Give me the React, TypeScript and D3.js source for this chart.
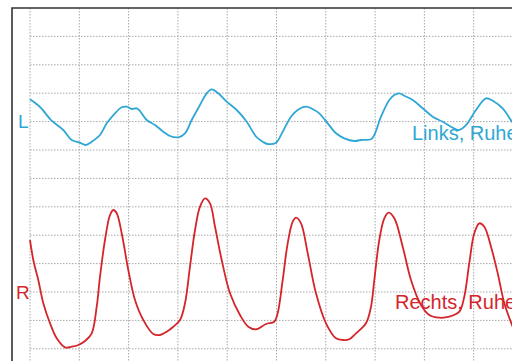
import React from "react";
import * as d3 from "d3";

// time in grid divisions, amplitude in grid divisions
const linksT = [0, 0.203, 0.44, 0.675, 0.846, 1.014, 1.13, 1.252, 1.42, 1.556, 1.724, 1.86, 1.961, 2.063, 2.164, 2.231, 2.367, 2.535, 2.704, 2.84, 3.008, 3.144, 3.28, 3.448, 3.584, 3.686, 3.819, 3.99, 4.193, 4.396, 4.584, 4.72, 4.822, 4.99, 5.126, 5.294, 5.43, 5.598, 5.767, 5.868, 6.039, 6.207, 6.375, 6.578, 6.714, 6.917, 6.984, 7.12, 7.288, 7.39, 7.491, 7.593, 7.763, 7.966, 8.168, 8.371, 8.574, 8.696, 8.844, 9.047, 9.25, 9.418, 9.588, 9.777, 9.9];
const linksV = [8.785, 8.514, 8.032, 7.704, 7.352, 7.257, 7.176, 7.292, 7.528, 7.94, 8.292, 8.504, 8.525, 8.444, 8.468, 8.373, 8.056, 7.88, 7.644, 7.493, 7.447, 7.588, 8.056, 8.585, 8.996, 9.137, 8.996, 8.701, 8.408, 7.996, 7.475, 7.292, 7.211, 7.257, 7.644, 8.173, 8.408, 8.525, 8.408, 8.292, 7.94, 7.588, 7.412, 7.317, 7.352, 7.377, 7.528, 8.173, 8.761, 8.937, 8.996, 8.912, 8.761, 8.468, 8.173, 7.996, 7.785, 7.704, 7.88, 8.408, 8.82, 8.701, 8.468, 7.996, 7.7];

const rechtsT = [0, 0.067, 0.168, 0.27, 0.406, 0.542, 0.71, 0.846, 0.98, 1.116, 1.252, 1.353, 1.42, 1.521, 1.623, 1.69, 1.759, 1.86, 1.994, 2.13, 2.298, 2.501, 2.637, 2.773, 2.907, 3.043, 3.144, 3.245, 3.347, 3.448, 3.55, 3.651, 3.753, 3.888, 4.057, 4.26, 4.428, 4.584, 4.787, 4.955, 5.024, 5.126, 5.227, 5.329, 5.396, 5.497, 5.633, 5.801, 6.004, 6.207, 6.343, 6.477, 6.613, 6.815, 6.917, 6.984, 7.085, 7.187, 7.276, 7.39, 7.56, 7.728, 7.931, 8.099, 8.302, 8.505, 8.708, 8.809, 8.91, 9.012, 9.114, 9.215, 9.351, 9.487, 9.621, 9.777, 9.9];
const rechtsV = [3.831, 3.127, 2.423, 1.602, 0.898, 0.37, 0.053, 0.074, 0.134, 0.275, 0.546, 1.482, 2.539, 3.831, 4.711, 4.887, 4.771, 4.067, 2.775, 1.718, 1.014, 0.521, 0.486, 0.602, 0.778, 1.014, 1.602, 2.891, 4.183, 5.004, 5.299, 5.123, 4.299, 3.127, 1.954, 1.19, 0.778, 0.687, 0.873, 0.954, 1.25, 2.423, 3.715, 4.475, 4.616, 4.419, 3.363, 1.954, 0.898, 0.37, 0.31, 0.335, 0.546, 0.898, 1.482, 2.423, 3.831, 4.595, 4.792, 4.595, 3.595, 2.423, 1.542, 1.19, 1.095, 1.13, 1.306, 1.835, 3.011, 4.067, 4.419, 4.299, 3.595, 2.658, 1.602, 0.838, 0.3];

const xTicks = d3.range(0, 11);
const yTicks = d3.range(0, 12);

const W = 512;
const H = 361;
const BLUE = "#2fa7d4";
const RED = "#d4252b";

export default function App() {
  const x = d3.scaleLinear().domain([0, 10]).range([30, 523]);
  const y = d3.scaleLinear().domain([0, 12]).range([348.8, 8]);

  const line = d3
    .line<[number, number]>()
    .x((d) => x(d[0]))
    .y((d) => y(d[1]))
    .curve(d3.curveCatmullRom.alpha(0.5));

  const links = linksT.map((t, i) => [t, linksV[i]] as [number, number]);
  const rechts = rechtsT.map((t, i) => [t, rechtsV[i]] as [number, number]);

  return (
    <svg
      width={W}
      height={H}
      style={{ position: "absolute", left: 0, top: 0, background: "#fff" }}
      fontFamily="Liberation Sans, Arial, sans-serif"
    >
      <rect width={W} height={H} fill="#fff" />
      {/* grid */}
      <g stroke="#a8a8a8" strokeWidth={1} strokeDasharray="1.5,1.5">
        {xTicks.map((t) => (
          <line key={"v" + t} x1={x(t)} x2={x(t)} y1={y(12)} y2={H} />
        ))}
        {yTicks.map((v) => (
          <line key={"h" + v} x1={x(0)} x2={W} y1={y(v)} y2={y(v)} />
        ))}
      </g>
      {/* frame */}
      <path d={`M12,${H} V8 H${W}`} fill="none" stroke="#333" strokeWidth={1.6} />

      <path d={line(links) ?? ""} fill="none" stroke={BLUE} strokeWidth={1.8} />
      <path d={line(rechts) ?? ""} fill="none" stroke={RED} strokeWidth={1.8} />

      <text x={18} y={128} fontSize={19} fill={BLUE}>L</text>
      <text x={16} y={299} fontSize={19} fill={RED}>R</text>
      <text x={412} y={140} fontSize={20} fill={BLUE}>Links, Ruhe</text>
      <text x={395} y={309} fontSize={20} fill={RED}>Rechts, Ruhe</text>
    </svg>
  );
}
